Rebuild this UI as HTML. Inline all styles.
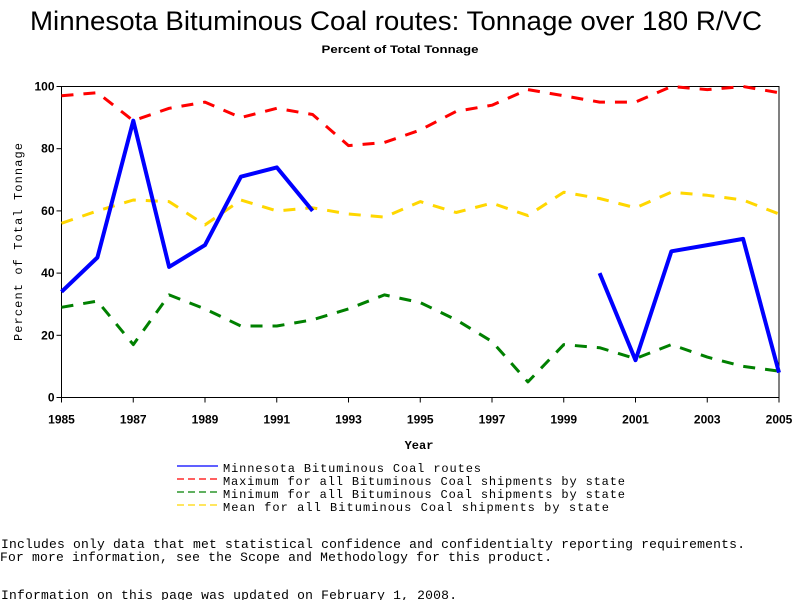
<!DOCTYPE html>
<html><head><meta charset="utf-8"><style>
html,body{margin:0;padding:0;background:#fff;width:800px;height:600px;overflow:hidden}
svg{display:block}
.t{font-family:"Liberation Sans",sans-serif}
.m{font-family:"Liberation Mono",monospace}
</style></head><body>
<svg id="chart" width="800" height="600">
<text class="t" x="396" y="30" font-size="27" text-anchor="middle" textLength="732" lengthAdjust="spacingAndGlyphs">Minnesota Bituminous Coal routes: Tonnage over 180 R/VC</text>
<text class="t" x="400" y="53" font-size="11" font-weight="bold" text-anchor="middle" textLength="157" lengthAdjust="spacingAndGlyphs">Percent of Total Tonnage</text>
<g id="axes"></g>
<g id="series"></g>
<text class="m" x="419" y="449" font-size="12" font-weight="bold" text-anchor="middle">Year</text>
<text class="m" x="22" y="242" font-size="12" text-anchor="middle" transform="rotate(-90 22 242)" textLength="198" lengthAdjust="spacing">Percent of Total Tonnage</text>
<g class="m" font-size="12">
<g><line x1="177" y1="466" x2="218" y2="466" stroke="#0000ff" stroke-width="1.3"/><text x="223" y="472" textLength="258" lengthAdjust="spacing">Minnesota Bituminous Coal routes</text></g>
<g><line x1="177" y1="479" x2="218" y2="479" stroke="#ff0000" stroke-width="1.3" stroke-dasharray="7,4"/><text x="223" y="485" textLength="402" lengthAdjust="spacing">Maximum for all Bituminous Coal shipments by state</text></g>
<g><line x1="177" y1="492" x2="218" y2="492" stroke="#008000" stroke-width="1.3" stroke-dasharray="7,4"/><text x="223" y="498" textLength="402" lengthAdjust="spacing">Minimum for all Bituminous Coal shipments by state</text></g>
<g><line x1="177" y1="505" x2="218" y2="505" stroke="#ffd700" stroke-width="1.3" stroke-dasharray="7,4"/><text x="223" y="511" textLength="386" lengthAdjust="spacing">Mean for all Bituminous Coal shipments by state</text></g>
</g>
<g class="m" font-size="13">
<text x="1" y="548" textLength="744" lengthAdjust="spacing">Includes only data that met statistical confidence and confidentialty reporting requirements.</text>
<text x="0" y="561" textLength="552" lengthAdjust="spacing">For more information, see the Scope and Methodology for this product.</text>
<text x="1" y="599" textLength="456" lengthAdjust="spacing">Information on this page was updated on February 1, 2008.</text>
</g>
</svg>
<script>
const years=[1985,1986,1987,1988,1989,1990,1991,1992,1993,1994,1995,1996,1997,1998,1999,2000,2001,2002,2003,2004,2005];
const minnesota=[34,45,89,42,49,71,74,60,null,null,null,null,null,null,null,40,12,47,49,51,8];
const maximum=[97,98,89,93,95,90,93,91,81,82,86,92,94,99,97,95,95,100,99,100,98];
const mean=[56,60,63.5,63,55.5,63.5,60,61,59,58,63,59.5,62.5,58.5,66,64,61,66,65,63.5,59];
const minimum=[29,31,17,33,28.5,23,23,25,28.5,33,30.5,25,18,5,17,16,12.5,17,13,10,8.5];
const yTicks=[0,20,40,60,80,100];
const xTickLabels=[1985,1987,1989,1991,1993,1995,1997,1999,2001,2003,2005];
const NS='http://www.w3.org/2000/svg';
const X0=61.5,X1=779,Y0=397.5,Y1=86.5;
function sx(v){return X0+(v-1985)/(2005-1985)*(X1-X0);}
function sy(v){return Y0-v/100*(Y0-Y1);}
function mk(t,a,p){const e=document.createElementNS(NS,t);for(const k in a)e.setAttribute(k,a[k]);p.appendChild(e);return e;}
const ax=document.getElementById('axes');
const frame=mk('rect',{x:X0,y:Y1,width:X1-X0,height:Y0-Y1,fill:'none',stroke:'#000','stroke-width':1},ax);


yTicks.forEach(v=>{
 mk('line',{x1:X0-5,x2:X0,y1:sy(v),y2:sy(v),stroke:'#000'},ax);
 const t=mk('text',{x:X0-7,y:sy(v)+4,'text-anchor':'end','font-size':12,'font-weight':'bold','font-family':'Liberation Sans, sans-serif'},ax);
 t.textContent=v;
 
 
});
xTickLabels.forEach(v=>{
 mk('line',{x1:sx(v),x2:sx(v),y1:Y0,y2:Y0+5,stroke:'#000'},ax);
 const t=mk('text',{x:sx(v),y:Y0+26,'text-anchor':'middle','font-size':12,'font-weight':'bold','font-family':'Liberation Sans, sans-serif'},ax);
 t.textContent=v;
 
 
});
const sg=document.getElementById('series');
function draw(vals,color,w,dash,name){
 let segs=[],cur=[];
 vals.forEach((v,i)=>{if(v==null){if(cur.length)segs.push(cur);cur=[];}else cur.push(sx(years[i]).toFixed(1)+','+sy(v).toFixed(1));});
 if(cur.length)segs.push(cur);
 segs.forEach(s=>{
  const p=mk('polyline',{points:s.join(' '),fill:'none',stroke:color,'stroke-width':w,'stroke-linejoin':'round'},sg);
  if(dash)p.setAttribute('stroke-dasharray',dash);
  
  
 });
}
draw(maximum,'#ff0000',3,'12,10','series-maximum');
draw(mean,'#ffd700',3,'12,10','series-mean');
draw(minimum,'#008000',3,'12,10','series-minimum');
draw(minnesota,'#0000ff',4,null,'series-minnesota');
</script>
</body></html>
